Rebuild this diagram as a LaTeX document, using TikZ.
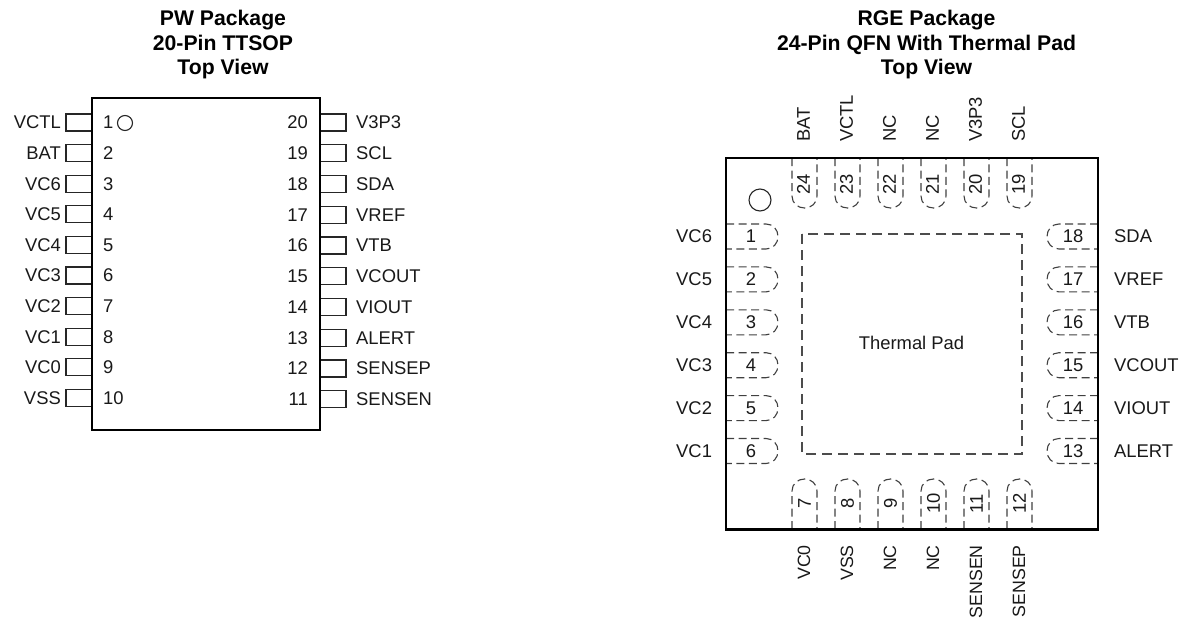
\documentclass[tikz,border=0pt]{standalone}
\usepackage{fontspec}
\setmainfont{Liberation Sans}
\tikzset{
 body/.style={draw=black,line width=2.8pt,fill=none},
 stub/.style={draw=black!85,line width=1.2pt},
 padline/.style={draw=black!75,line width=1.1pt,dash pattern=on 8pt off 4.5pt},
 thermal/.style={draw=black!70,line width=1.1pt,dash pattern=on 10pt off 6pt},
 lbl/.style={inner sep=0pt,font=\fontsize{18.4}{18.4}\selectfont,text=black!90},
 botlbl/.style={inner sep=0pt,font=\fontsize{17.8}{17.8}\selectfont,text=black!90},
 ttl/.style={inner sep=0pt,font=\fontsize{21.2}{21.2}\selectfont\bfseries,text=black,anchor=base},
 pinmark/.style={draw=black!85,line width=1.1pt}
}
\begin{document}
\begin{tikzpicture}[x=1pt,y=-1pt]
\useasboundingbox (0,0) rectangle (1183,619);
% titles
\node[ttl] (t1a) at (223,25.5) {PW Package};
\node[ttl] (t1b) at (223,50) {20-Pin TTSOP};
\node[ttl] (t1c) at (223,74.5) {Top View};
\node[ttl] (t2a) at (926.5,25.5) {RGE Package};
\node[ttl] (t2b) at (926.5,50) {24-Pin QFN With Thermal Pad};
\node[ttl] (t2c) at (926.5,74.5) {Top View};
% TSSOP
\foreach \n/\t [count=\i from 0] in {1/VCTL,2/BAT,3/VC6,4/VC5,5/VC4,6/VC3,7/VC2,8/VC1,9/VC0,10/VSS}{
  \pgfmathsetmacro{\yy}{122.5+30.6*\i}
  \draw[stub] (92,\yy-8.5) -- (66,\yy-8.5) -- (66,\yy+8.5) -- (92,\yy+8.5);
  \node[lbl,anchor=east] (l\n) at (61,\yy) {\t};
  \node[lbl,anchor=west] (ln\n) at (103,\yy) {\n};
}
\foreach \n/\t [count=\i from 0] in {20/V3P3,19/SCL,18/SDA,17/VREF,16/VTB,15/VCOUT,14/VIOUT,13/ALERT,12/SENSEP,11/SENSEN}{
  \pgfmathsetmacro{\yy}{122.5+30.75*\i}
  \draw[stub] (320,\yy-8.5) -- (346,\yy-8.5) -- (346,\yy+8.5) -- (320,\yy+8.5);
  \node[lbl,anchor=west] (l\n) at (356,\yy) {\t};
  \node[lbl,anchor=east] (ln\n) at (308,\yy) {\n};
}
\draw[body] (92,98) rectangle (320,430);
\draw[pinmark] (125,123) circle (7.5);
% QFN
\foreach \n/\t [count=\i from 0] in {1/VC6,2/VC5,3/VC4,4/VC3,5/VC2,6/VC1}{
  \pgfmathsetmacro{\yy}{236.5+42.9*\i}
  \draw[padline] (726,\yy-12.5) -- (766,\yy-12.5) .. controls (773,\yy-12.5) and (778,\yy-7) .. (778,\yy) .. controls (778,\yy+7) and (773,\yy+12.5) .. (766,\yy+12.5) -- (726,\yy+12.5);
  \node[lbl] (qn\n) at (751,\yy) {\n};
  \node[lbl,anchor=west] (ql\n) at (676,\yy) {\t};
}
\foreach \n/\t [count=\i from 0] in {18/SDA,17/VREF,16/VTB,15/VCOUT,14/VIOUT,13/ALERT}{
  \pgfmathsetmacro{\yy}{236.5+42.9*\i}
  \draw[padline] (1098,\yy-12.5) -- (1059,\yy-12.5) .. controls (1052,\yy-12.5) and (1047,\yy-7) .. (1047,\yy) .. controls (1047,\yy+7) and (1052,\yy+12.5) .. (1059,\yy+12.5) -- (1098,\yy+12.5);
  \node[lbl] (qn\n) at (1073,\yy) {\n};
  \node[lbl,anchor=west] (ql\n) at (1114,\yy) {\t};
}
\foreach \n/\t [count=\i from 0] in {24/BAT,23/VCTL,22/NC,21/NC,20/V3P3,19/SCL}{
  \pgfmathsetmacro{\xx}{804.5+43*\i}
  \draw[padline] (\xx-12.5,158) -- (\xx-12.5,196) .. controls (\xx-12.5,203) and (\xx-7,208) .. (\xx,208) .. controls (\xx+7,208) and (\xx+12.5,203) .. (\xx+12.5,196) -- (\xx+12.5,158);
  \node[lbl,rotate=90] (qn\n) at (\xx-1,184) {\n};
  \node[lbl,rotate=90,anchor=west] (ql\n) at (\xx-1,142) {\t};
}
\foreach \n/\t [count=\i from 0] in {7/VC0,8/VSS,9/NC,10/NC,11/SENSEN,12/SENSEP}{
  \pgfmathsetmacro{\xx}{804.5+43*\i}
  \draw[padline] (\xx-12.5,529) -- (\xx-12.5,491) .. controls (\xx-12.5,484) and (\xx-7,479) .. (\xx,479) .. controls (\xx+7,479) and (\xx+12.5,484) .. (\xx+12.5,491) -- (\xx+12.5,529);
  \node[lbl,rotate=90] (qn\n) at (\xx,503.5) {\n};
  \node[botlbl,rotate=90,anchor=east] (ql\n) at (\xx-0.5,545) {\t};
}
\draw[thermal] (802,234) rectangle (1022,454);
\node[lbl] (pad) at (911.5,343) {Thermal Pad};
\draw[pinmark] (760,200) circle (11);
\draw[body] (726,158) rectangle (1098,529.5);
\end{tikzpicture}
\end{document}
